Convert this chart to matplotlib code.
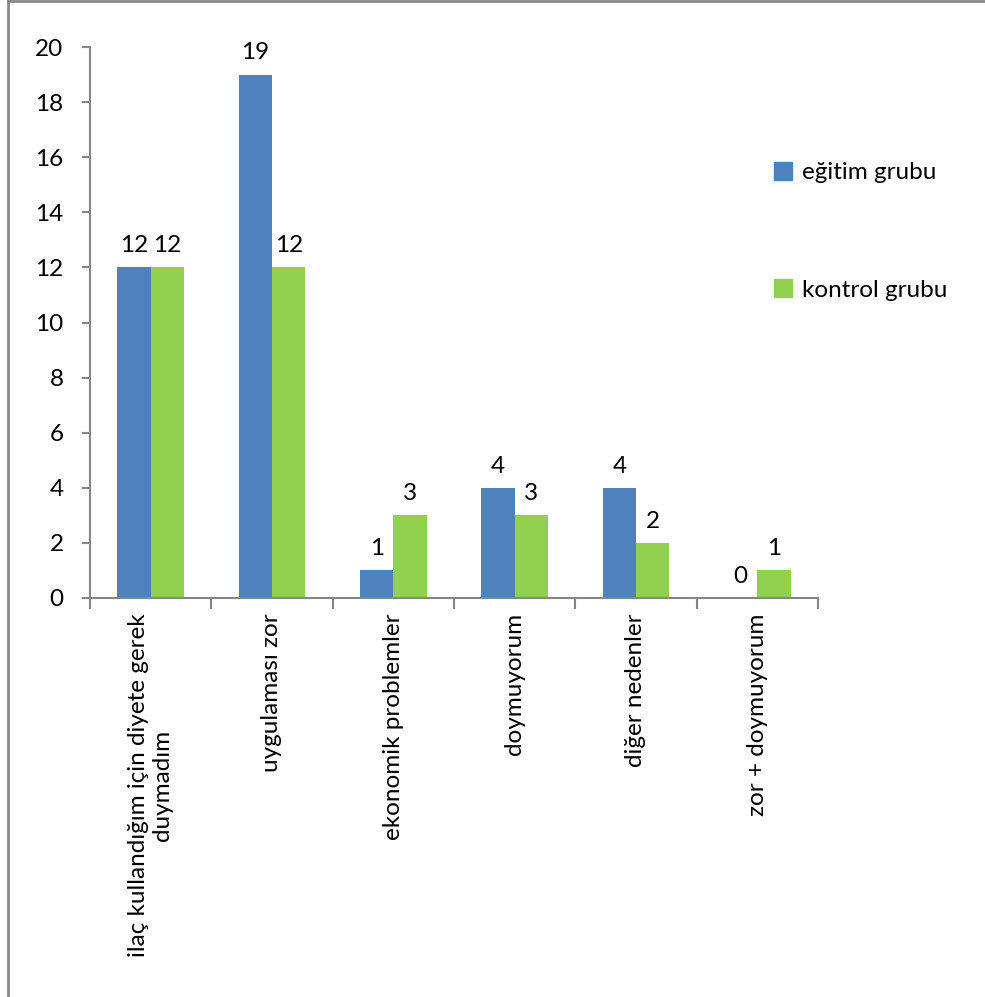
import numpy as np
import matplotlib.pyplot as plt
from matplotlib.lines import Line2D

categories = ['ilaç kullandığım için diyete gerek\nduymadım', 'uygulaması zor',
              'ekonomik problemler', 'doymuyorum', 'diğer nedenler', 'zor + doymuyorum']
egitim = [12, 19, 1, 4, 4, 0]
kontrol = [12, 12, 3, 3, 2, 1]
series_names = ['eğitim grubu', 'kontrol grubu']
colors = ['#4F81BD', '#92D050']
yticks = [0, 2, 4, 6, 8, 10, 12, 14, 16, 18, 20]

plt.rcParams['font.family'] = ['Lato', 'DejaVu Sans']
axis_gray = '#868686'
fs = 17.5

fig = plt.figure(figsize=(9.85, 9.97), dpi=100)
ax = fig.add_axes([90/985, 1-598/997, 728/985, 551/997])

x = np.arange(len(categories)) + 0.5
w = 0.275
for i, (vals, col) in enumerate(zip([egitim, kontrol], colors)):
    xs = x - w/2 + i*w
    ax.bar(xs, vals, width=w, color=col, label=series_names[i])
    for xi, v in zip(xs, vals):
        ax.annotate(str(v), (xi, v), xytext=(0, 8), textcoords='offset points',
                    ha='center', va='bottom', fontsize=fs)

ax.set_xlim(0, len(categories))
ax.set_ylim(0, 20)
ax.set_yticks(yticks)
ax.tick_params(axis='y', direction='out', length=6, width=1.5, color=axis_gray,
               labelsize=fs, pad=13)
ax.set_xticks(np.arange(len(categories) + 1))
ax.set_xticklabels([])
ax.tick_params(axis='x', direction='out', length=8, width=1.5, color=axis_gray)
for s in ['top', 'right']:
    ax.spines[s].set_visible(False)
for s in ['left', 'bottom']:
    ax.spines[s].set_color(axis_gray)
    ax.spines[s].set_linewidth(1.5)

# category names, rotated under each group
for xi, name in zip(x, categories):
    ax.text(xi, -0.55, name, rotation=90, ha='center', va='top',
            multialignment='center', fontsize=fs)

fig.legend(handles=[plt.Rectangle((0, 0), 1, 1, color=c) for c in colors],
           labels=series_names, loc='upper left',
           bbox_to_anchor=(752/985, 1-140/997), frameon=False,
           fontsize=fs, handlelength=0.75, handleheight=0.75,
           handletextpad=0.4, labelspacing=3.95)

# outer frame lines (left and top)
fig.add_artist(Line2D([7.5/985, 7.5/985], [0, 1], color=axis_gray, lw=2,
                      transform=fig.transFigure))
fig.add_artist(Line2D([7.5/985, 1], [1-1/997, 1-1/997], color=axis_gray, lw=2,
                      transform=fig.transFigure))

fig.savefig('out.png', dpi=100)
